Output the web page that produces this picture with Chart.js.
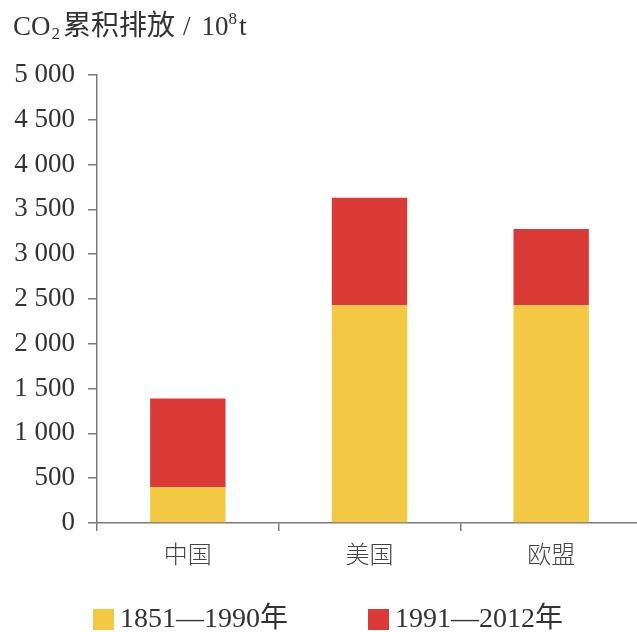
<!DOCTYPE html>
<html>
<head>
<meta charset="utf-8">
<script src="https://cdn.jsdelivr.net/npm/chart.js@4/dist/chart.umd.min.js"></script>
<style>
  html, body { margin: 0; padding: 0; background: #fff; overflow: hidden; }
  #wrap { width: 642px; height: 632px; }
</style>
</head>
<body>
<div id="wrap"><canvas id="chart"></canvas></div>
<script>
const CATEGORIES = ['中国', '美国', '欧盟'];
const SERIES_NAMES = ['1851—1990年', '1991—2012年'];
const EARLY = [400, 2430, 2430];   // 1851-1990
const LATE = [990, 1200, 850];     // 1991-2012
const Y_MAX = 5000;
const Y_STEP = 500;

const YELLOW = '#F3C843';
const RED = '#DA3B37';
const AXIS = '#7a7a7a';
const TEXT = '#333333';
const SERIF = "'Liberation Serif', 'Noto Sans CJK SC', serif";

function fmt(v){ //5000 -> "5 000"
  if (v < 1000) return String(v);
  return Math.floor(v / 1000) + ' ' + String(v % 1000).padStart(3, '0');
}

// title with sub/superscript, drawn by hand
const titlePlugin = {
  id: 'unitTitle',
  afterDraw: (chart) => {
    const {ctx} = chart;
    ctx.save();
    ctx.fillStyle = TEXT;
    ctx.textBaseline = 'alphabetic';
    let x = 13;
    const base = 35;
    const parts = [
      {t: 'CO', size: 27, dy: 0, gap: 1},
      {t: '2', size: 17, dy: 4, gap: 3},
      {t: '累积排放', size: 28, dy: 0, gap: 8},
      {t: '/', size: 27, dy: 0, gap: 11},
      {t: '10', size: 27, dy: 0, gap: 0},
      {t: '8', size: 17, dy: -11, gap: 2},
      {t: 't', size: 28, dy: 0, gap: 0},
    ];
    for (const p of parts){
      ctx.font = p.size + 'px ' + SERIF;
      ctx.fillText(p.t, x, base + p.dy);
      x += ctx.measureText(p.t).width + p.gap;
    }
    ctx.restore();
  }
};

// legend at the bottom, squares + labels
const legendPlugin = {
  id: 'bottomLegend',
  afterDraw: (chart) => {
    const {ctx} = chart;
    const starts = [93, 368];
    ctx.save();
    ctx.font = '28px ' + SERIF;
    ctx.textBaseline = 'middle';
    chart.data.datasets.forEach((ds, i) => {
      const x = starts[i];
      ctx.fillStyle = ds.backgroundColor;
      ctx.fillRect(x, 609, 21, 21);
      ctx.fillStyle = TEXT;
      ctx.fillText(ds.label, x + 27, 620);
    });
    ctx.restore();
  }
};

const data = {
  labels: CATEGORIES,
  datasets: [
    {label: SERIES_NAMES[0], data: EARLY, backgroundColor: YELLOW, borderWidth: 0},
    {label: SERIES_NAMES[1], data: LATE, backgroundColor: RED, borderWidth: 0},
  ]
};

const options = {
  responsive: true,
  maintainAspectRatio: false,
  animation: false,
  layout: {padding: {top: 75, right: 0, bottom: 0, left: 0}},
  datasets: {bar: {categoryPercentage: 1, barPercentage: 0.415}},
  plugins: {
    legend: {display: false},
    title: {display: false},
    tooltip: {enabled: false},
  },
  scales: {
    x: {
      stacked: true,
      afterFit: (scale) => { scale.height = 109; },
      grid: {
        offset: true,
        drawOnChartArea: false,
        tickLength: 8,
        lineWidth: 1.5,
        color: (c) => c.tick ? AXIS : 'rgba(0,0,0,0)',
      },
      border: {display: true, color: AXIS, width: 1.5},
      ticks: {
        color: '#444444',
        padding: 8,
        font: {family: "'Noto Sans CJK SC', sans-serif", size: 24, weight: 300},
      },
    },
    y: {
      stacked: true,
      min: 0,
      max: Y_MAX,
      afterFit: (scale) => { scale.width = 97; },
      grid: {drawOnChartArea: false, tickLength: 9, lineWidth: 1.5, color: AXIS},
      border: {display: true, color: AXIS, width: 1.5},
      ticks: {
        stepSize: Y_STEP,
        color: TEXT,
        padding: 13,
        font: {family: SERIF, size: 27},
        callback: (v) => fmt(v),
      },
    },
  },
};

const config = {
  type: 'bar',
  data,
  options,
  plugins: [titlePlugin, legendPlugin],
};

const $chart = document.getElementById('chart');
const chart = new Chart($chart, config);
</script>
</body>
</html>
